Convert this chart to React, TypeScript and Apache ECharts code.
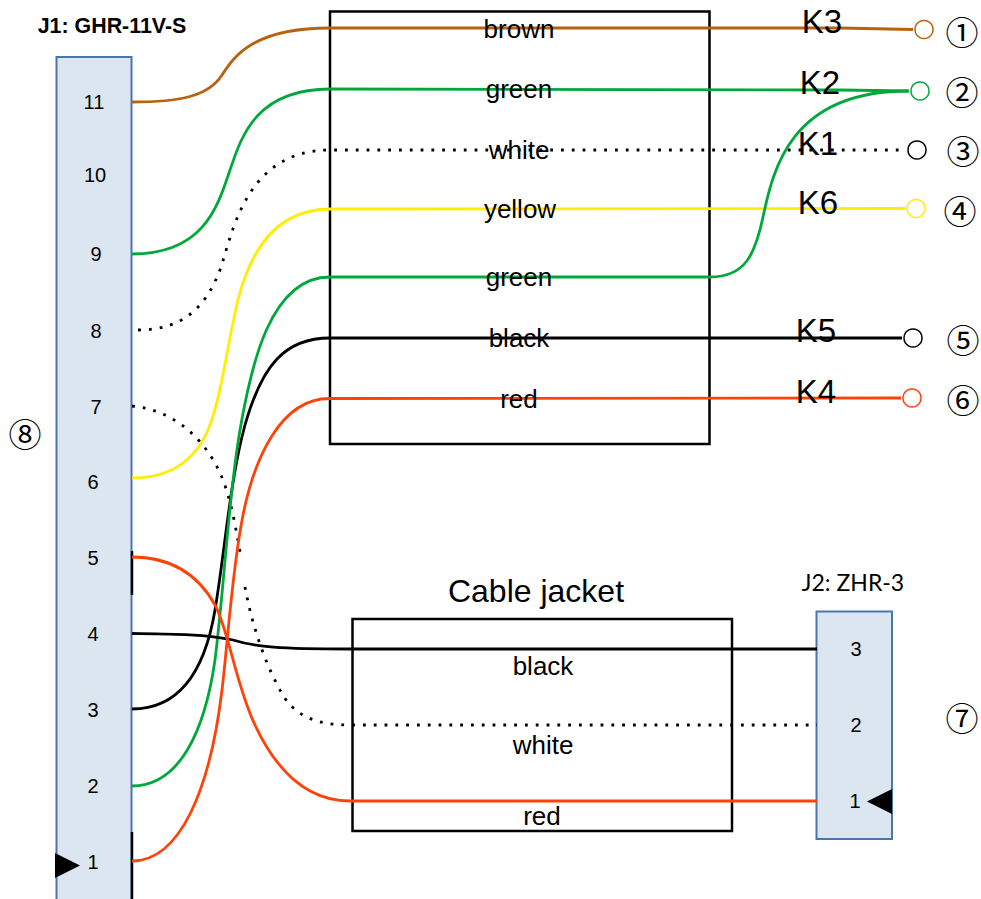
import React, { useEffect, useRef } from "react";
import * as echarts from "echarts";

const WIDTH = 981;
const HEIGHT = 899;
const BROWN = "#b8620f";
const GREEN = "#00a83c";
const YELLOW = "#ffee00";
const RED = "#ff4208";
const BLACK = "#000000";
const SANS = "Liberation Sans";

type Seg = number[];
// Each path: start point, then cubic segments (6 numbers) or straight lines (2 numbers)
const brownWire: Seg[] = [[132,102],[178,102,208,97,222,75],[234,57,252,28,330,28],[840,28],[913,29.5]];
const greenTopWire: Seg[] = [[132,254],[205,254,218,205,230,170],[241,138,255,89,330,89],[840,90],[909,91]];
const whiteTopWire: Seg[] = [[138,330],[185,330,205,305,218,275],[231,245,240,150,330,150],[904,150]];
const yellowWire: Seg[] = [[132,478],[170,478,195,460,208,430],[221,400,228,340,238,300],[248,260,270,209,330,209],[905,208.5]];
const greenLowWire: Seg[] = [[132,786],[180,786,205,730,215,660],[225,580,228,500,240,430],[251,366,270,277,330,277],[710,277],[745,277,755,255,763,217],[773,170,790,91,908,91]];
const blackTopWire: Seg[] = [[132,709],[180,709,205,670,215,610],[225,550,230,480,245,425],[262,365,285,338,330,338],[902,338]];
const redTopWire: Seg[] = [[132,861],[180,861,210,790,222,690],[228,640,232,570,243,515],[254,460,280,398,330,398.5],[901,398]];
const redLowWire: Seg[] = [[132,557],[175,557,200,578,215,605],[228,628,236,685,255,725],[270,757,298,801,350,801],[817,801]];
const blackLowWire: Seg[] = [[132,633.5],[170,634,205,634,233,640],[255,647,280,649,350,649],[817,649]];
const whiteLowWireA: Seg[] = [[132,406],[175,410,205,440,220,473],[231,497,236,530,241,557]];
const whiteLowWireB: Seg[] = [[245,587],[252,625,265,665,284,697],[298,718,320,725,350,725],[817,725]];

const wires: [Seg[], string, boolean][] = [
  [brownWire, BROWN, false],
  [whiteTopWire, BLACK, true],
  [whiteLowWireA, BLACK, true],
  [whiteLowWireB, BLACK, true],
  [yellowWire, YELLOW, false],
  [blackTopWire, BLACK, false],
  [greenTopWire, GREEN, false],
  [greenLowWire, GREEN, false],
  [redTopWire, RED, false],
  [blackLowWire, BLACK, false],
  [redLowWire, RED, false],
];

// x, y, radius, colour
const terminals: [number, number, number, string][] = [
  [924, 29.5, 9, BROWN],
  [920, 91, 9, GREEN],
  [917, 150, 9, BLACK],
  [916, 208.5, 9, YELLOW],
  [913, 338, 9, BLACK],
  [912, 398, 9, RED],
];

// x0, y0, x1, y1
const frames: number[][] = [
  [330, 11.5, 709.5, 444],
  [352.5, 619, 732, 831],
];
const connectors: number[][] = [
  [56.5, 57, 131.5, 905],
  [816.5, 611.5, 892, 839],
];
const connectorBars: number[][] = [
  [132, 551, 132, 595],
  [132, 832, 132, 899],
];
const pinMarkers: number[][][] = [
  [[55, 853], [55, 878], [80, 865.5]],
  [[892, 789], [892, 814], [867, 801.5]],
];

const j1Pins: [string, number, number][] = [
  ["11", 94, 102], ["10", 95, 175], ["9", 96, 254], ["8", 96, 331], ["7", 96, 407], ["6", 93, 482],
  ["5", 93, 558], ["4", 93, 634], ["3", 93, 710], ["2", 93, 786], ["1", 93, 862],
];
const j2Pins: [string, number, number][] = [["3", 856, 649], ["2", 856, 725], ["1", 855, 801]];
const wireLabels: [string, number, number][] = [
  ["brown", 519, 29], ["green", 519, 89], ["white", 519, 150], ["yellow", 520, 209], ["green", 519, 277],
  ["black", 519, 338], ["red", 519, 399], ["black", 543, 666], ["white", 543, 745], ["red", 542, 816],
];
const kLabels: [string, number, number][] = [
  ["K3", 822, 21], ["K2", 820, 82], ["K1", 818, 143], ["K6", 818, 202], ["K5", 816, 330], ["K4", 816, 391],
];
const circledLabels: [string, number, number][] = [
  ["①", 962, 31], ["②", 962, 91], ["③", 963, 150], ["④", 960, 210], ["⑤", 963, 339], ["⑥", 963, 399],
  ["⑦", 962, 717], ["⑧", 25, 433],
];

function App() {
  const ref = useRef<HTMLDivElement>(null);
  useEffect(() => {
    document.body.style.margin = "0";
    const chart = echarts.init(ref.current!, undefined, { renderer: "svg" });
    const textSeries = (items: [string, number, number][], fontSize: number, fontFamily = SANS, fontWeight = "normal", z = 10) => ({
      type: "custom" as const,
      coordinateSystem: "cartesian2d",
      z,
      silent: true,
      data: items.map((t) => [t[1], t[2]]),
      renderItem: (p: any, api: any) => {
        const [x, y] = api.coord([items[p.dataIndex][1], items[p.dataIndex][2]]);
        return {
          type: "text",
          style: { text: items[p.dataIndex][0], x, y, fontSize, fontFamily, fontWeight, fill: "#000", align: "center", verticalAlign: "middle" },
        };
      },
    });
    const rectSeries = (items: number[][], style: any, z: number) => ({
      type: "custom" as const,
      coordinateSystem: "cartesian2d",
      z,
      silent: true,
      data: items.map((r) => [r[0], r[1]]),
      renderItem: (p: any, api: any) => {
        const r = items[p.dataIndex];
        const a = api.coord([r[0], r[1]]);
        const b = api.coord([r[2], r[3]]);
        return { type: "rect", shape: { x: a[0], y: a[1], width: b[0] - a[0], height: b[1] - a[1] }, style };
      },
    });
    chart.setOption({
      animation: false,
      grid: { left: 0, right: 0, top: 0, bottom: 0 },
      xAxis: { type: "value", min: 0, max: WIDTH, show: false },
      yAxis: { type: "value", min: 0, max: HEIGHT, inverse: true, show: false },
      series: [
        rectSeries(connectors, { fill: "#dce6f1", stroke: "#4a76b0", lineWidth: 2 }, 1),
        rectSeries(frames, { fill: "none", stroke: "#000", lineWidth: 2.5 }, 2),
        {
          type: "custom",
          coordinateSystem: "cartesian2d",
          z: 3,
          silent: true,
          data: connectorBars.map((b) => [b[0], b[1]]),
          renderItem: (p: any, api: any) => {
            const b = connectorBars[p.dataIndex];
            const s = api.coord([b[0], b[1]]);
            const e = api.coord([b[2], b[3]]);
            return { type: "line", shape: { x1: s[0], y1: s[1], x2: e[0], y2: e[1] }, style: { stroke: "#000", lineWidth: 2.5 } };
          },
        },
        {
          type: "custom",
          coordinateSystem: "cartesian2d",
          z: 4,
          silent: true,
          data: wires.map((w) => [w[0][0][0], w[0][0][1]]),
          renderItem: (p: any, api: any) => {
            const [segs, color, dotted] = wires[p.dataIndex];
            let d = "";
            segs.forEach((s, i) => {
              const pts: number[] = [];
              for (let k = 0; k < s.length; k += 2) pts.push(...api.coord([s[k], s[k + 1]]));
              d += (i === 0 ? "M" : s.length === 2 ? "L" : "C") + pts.join(" ") + " ";
            });
            return {
              type: "path",
              shape: { pathData: d },
              style: { fill: "none", stroke: color, lineWidth: 2.8, lineDash: dotted ? [2.8, 8] : undefined },
            };
          },
        },
        {
          type: "custom",
          coordinateSystem: "cartesian2d",
          z: 5,
          silent: true,
          data: terminals.map((t) => [t[0], t[1]]),
          renderItem: (p: any, api: any) => {
            const t = terminals[p.dataIndex];
            const c = api.coord([t[0], t[1]]);
            return { type: "circle", shape: { cx: c[0], cy: c[1], r: t[2] }, style: { fill: "#fff", stroke: t[3], lineWidth: 1.5 } };
          },
        },
        {
          type: "custom",
          coordinateSystem: "cartesian2d",
          z: 6,
          silent: true,
          data: pinMarkers.map((m) => m[0]),
          renderItem: (p: any, api: any) => {
            const pts = pinMarkers[p.dataIndex].map((q) => api.coord(q));
            return { type: "polygon", shape: { points: pts }, style: { fill: "#000" } };
          },
        },
        textSeries(j1Pins, 20),
        textSeries(j2Pins, 20),
        textSeries(wireLabels, 26),
        textSeries(kLabels, 33),
        textSeries([["Cable jacket", 536, 591]], 32),
        textSeries([["J1: GHR-11V-S", 112, 26]], 21.4, SANS, "bold"),
        textSeries([["J2: ZHR-3", 853, 582]], 23, "Lato"),
        textSeries(circledLabels, 33, "Noto Sans CJK JP"),
      ],
    });
    return () => chart.dispose();
  }, []);
  return <div ref={ref} style={{ position: "absolute", left: 0, top: 0, width: WIDTH, height: HEIGHT, background: "#fff" }} />;
}

export default App;
